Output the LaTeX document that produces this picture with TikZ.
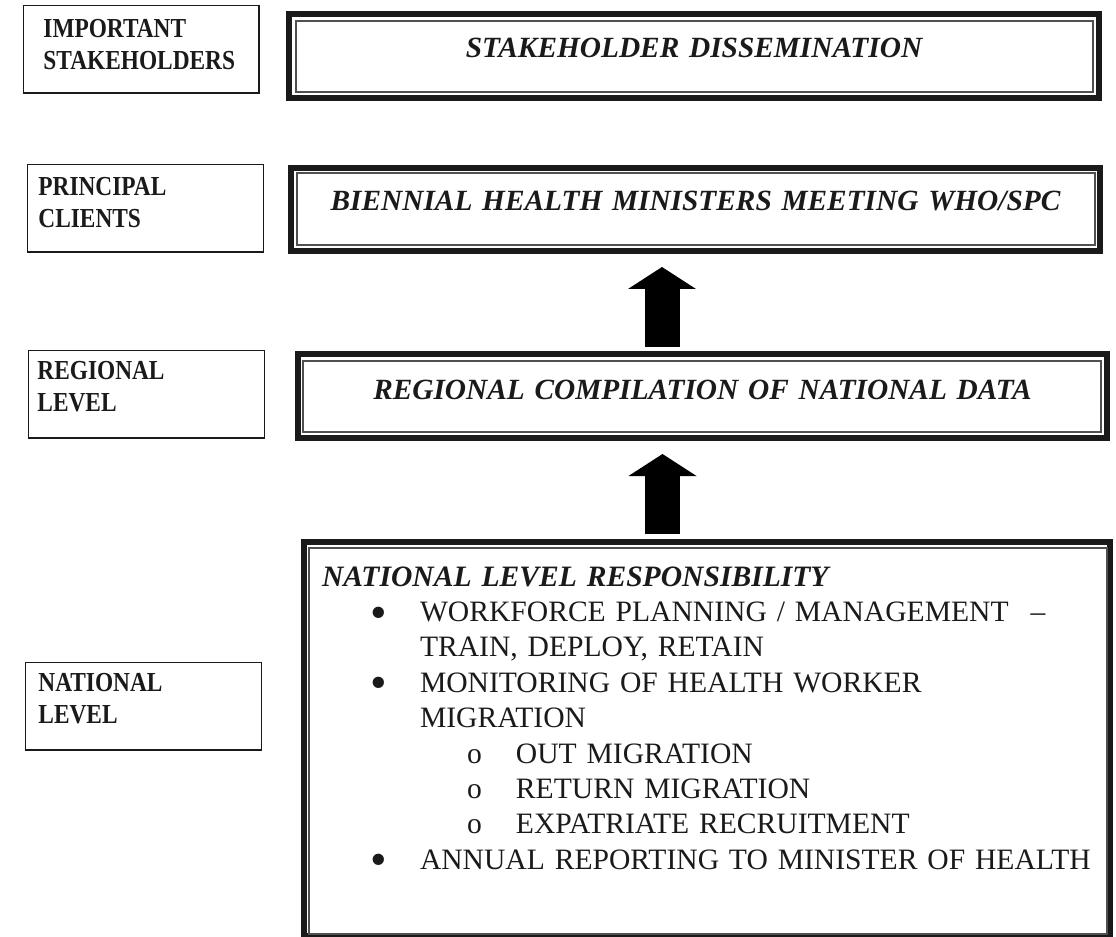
\documentclass[tikz,border=0pt]{standalone}
\usepackage{fontspec}
\setmainfont{Liberation Serif}
\newfontfamily\lblfont[FakeStretch=0.85]{Liberation Serif}
\usetikzlibrary{arrows.meta,calc}
\newlength\pxu
\setlength\pxu{0.75pt}
\newcommand\natbullet[1]{\hspace*{66\pxu}\makebox[50\pxu][l]{\raisebox{-5pt}{\scalebox{1.6}{\textbullet}}}#1}
\newcommand\natsub[1]{\hspace*{163\pxu}\makebox[49\pxu][l]{o}#1}
\definecolor{ink}{HTML}{1A1A1A}
\definecolor{thinline}{HTML}{505050}
\begin{document}
\begin{tikzpicture}[x=0.75pt,y=-0.75pt,
  lblbox/.style={draw=ink, line width=1.1pt, inner sep=0pt, anchor=north west, align=left,
    text=ink, font={\lblfont\bfseries\fontsize{20.6pt}{23.7pt}\selectfont}},
  mainbox/.style={draw=ink, line width=4.5pt, inner sep=0pt, anchor=north west, align=center,
    text=ink, font={\bfseries\itshape\fontsize{22pt}{26pt}\selectfont}},
  innerframe/.style={draw=thinline, line width=1.1pt},
  bigarrow/.style={draw=black, line width=26.25pt, -{Triangle[length=16.5pt,width=51pt,line width=0pt]}}
]
\useasboundingbox (0,0) rectangle (1116,937);

% left level labels
\node[lblbox, text width=235.6\pxu, text height=32\pxu, text depth=55.6\pxu] (l1) at (22.7,4.7)
  {\hspace*{20\pxu}IMPORTANT\\\hspace*{20\pxu}STAKEHOLDERS};
\node[lblbox, text width=236\pxu, text height=31.3\pxu, text depth=56.3\pxu] (l2) at (26.7,163.7)
  {\hspace*{11\pxu}PRINCIPAL\\\hspace*{11\pxu}CLIENTS};
\node[lblbox, text width=236\pxu, text height=29.3\pxu, text depth=58.3\pxu] (l3) at (27.7,349.7)
  {\hspace*{9\pxu}REGIONAL\\\hspace*{9\pxu}LEVEL};
\node[lblbox, text width=236\pxu, text height=29.3\pxu, text depth=58.3\pxu] (l4) at (24.7,661.7)
  {\hspace*{13\pxu}NATIONAL\\\hspace*{13\pxu}LEVEL};

% main boxes
\node[mainbox, text width=810\pxu, text height=44\pxu, text depth=40\pxu] (b1) at (286,11)
  {STAKEHOLDER DISSEMINATION};
\node[mainbox, text width=809\pxu, text height=43\pxu, text depth=40\pxu] (b2) at (288,165)
  {BIENNIAL HEALTH MINISTERS MEETING WHO/SPC};
\node[mainbox, text width=809\pxu, text height=46\pxu, text depth=38\pxu] (b3) at (295,351)
  {REGIONAL COMPILATION OF NATIONAL DATA};
\node[mainbox, align=left, text width=806\pxu, text height=44\pxu, text depth=350\pxu,
  font={\fontsize{22.2pt}{26.55pt}\selectfont}] (b4) at (301,539)
  {{\bfseries\itshape\hspace*{18\pxu}NATIONAL LEVEL RESPONSIBILITY}\\
   \natbullet{WORKFORCE PLANNING / MANAGEMENT\hspace{22\pxu}–}\\
   \hspace*{116\pxu}TRAIN, DEPLOY, RETAIN\\
   \natbullet{MONITORING OF HEALTH WORKER}\\
   \hspace*{116\pxu}MIGRATION\\
   \natsub{OUT MIGRATION}\\
   \natsub{RETURN MIGRATION}\\
   \natsub{EXPATRIATE RECRUITMENT}\\
   \natbullet{ANNUAL REPORTING TO MINISTER OF HEALTH}};

% inner frames
\draw[innerframe] ([shift={(10,10)}]b1.north west) rectangle ([shift={(-9,-9)}]b1.south east);
\draw[innerframe] ([shift={(9,8)}]b2.north west) rectangle ([shift={(-8,-9)}]b2.south east);
\draw[innerframe] ([shift={(8,10)}]b3.north west) rectangle ([shift={(-9,-9)}]b3.south east);
\draw[innerframe] ([shift={(8,9)}]b4.north west) rectangle ([shift={(-6,-5)}]b4.south east);

% block arrows
\coordinate (ax1) at (662,300);
\coordinate (ax2) at (662.5,490);
\draw[bigarrow, shorten <=3pt, shorten >=9.75pt] (b3.north -| ax1) -- (b2.south -| ax1);
\draw[bigarrow, shorten <=3.75pt, shorten >=9.75pt] (b4.north -| ax2) -- (b3.south -| ax2);
\end{tikzpicture}
\end{document}
